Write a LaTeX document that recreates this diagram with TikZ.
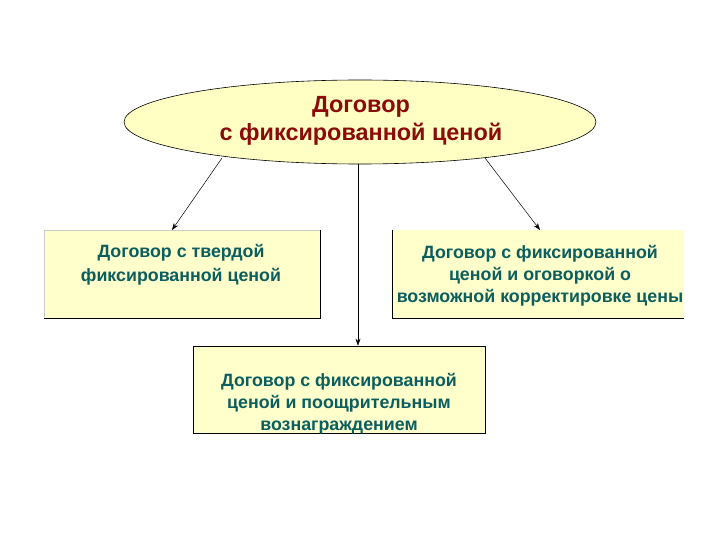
\documentclass[tikz,border=0pt]{standalone}
\usepackage{fontspec}
\setmainfont{Liberation Sans}
\usetikzlibrary{shapes.geometric,arrows.meta}
\definecolor{boxfill}{HTML}{FFFFCC}
\definecolor{ellfill}{HTML}{FFFFC4}
\definecolor{titlered}{HTML}{8B0A0A}
\definecolor{boxtext}{HTML}{0B5E5E}
\tikzset{
  every picture/.style={x=1pt,y=-1pt},
  boxtxt/.style={font=\bfseries\fontsize{17.8}{22}\selectfont, text=boxtext, align=center},
  conn/.style={draw=black, line width=0.5pt, -{Stealth[length=7pt,width=5pt]}},
}
\begin{document}
\begin{tikzpicture}
\useasboundingbox[fill=white] (0,0) rectangle (720,540);
% ellipse
\node[ellipse, draw=black, line width=0.6pt, fill=ellfill, minimum width=472pt, minimum height=84pt, inner sep=0pt] (top) at (360,122) {};
\node[font=\bfseries\fontsize{23.4}{28}\selectfont, text=titlered, align=center] (title) at (361,121) {Договор\\с фиксированной ценой};
% left box
\fill[boxfill] (44,230) rectangle (320,318);
\draw[black!20] (44,318) -- (44,230) -- (320,230);
\draw[black, line width=0.6pt] (320,230) -- (320,318) -- (44,318);
\node[boxtxt, font=\bfseries\fontsize{17.8}{24}\selectfont] (ltxt) at (181,265) {Договор с твердой\\фиксированной ценой};
% right box
\fill[boxfill] (392,230) rectangle (684,318);
\draw[black, line width=0.6pt] (392,230) -- (392,318) -- (684,318);
\node[boxtxt] (rtxt) at (540,276) {Договор с фиксированной\\ценой и оговоркой о\\возможной корректировке цены};
% bottom box
\node[draw=black, line width=0.6pt, fill=boxfill, minimum width=292pt, minimum height=87pt, inner sep=0pt] (bbox) at (339,389.5) {};
\node[boxtxt] (btxt) at (339,404) {Договор с фиксированной\\ценой и поощрительным\\вознаграждением};
% connectors
\coordinate (a1) at (222,158);
\coordinate (a1e) at (172,230);
\coordinate (a2) at (485,158);
\coordinate (a2e) at (540,230);
\coordinate (a3) at (358,164);
\draw[conn] (a1) -- (a1e);
\draw[conn] (a2) -- (a2e);
\draw[conn] (a3) -- (a3 |- bbox.north);
\end{tikzpicture}
\end{document}
